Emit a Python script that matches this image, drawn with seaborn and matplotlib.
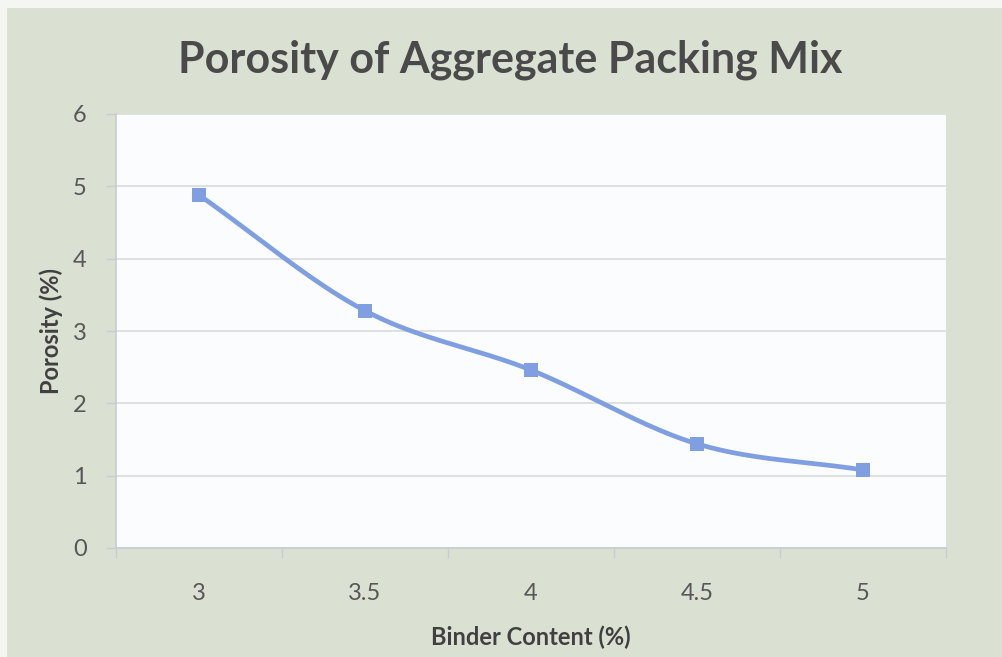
import numpy as np
import pandas as pd
import matplotlib
matplotlib.use("Agg")
import matplotlib.pyplot as plt
from matplotlib.patches import Rectangle
from matplotlib.ticker import FixedLocator
import seaborn as sns

# Data
binder_content = ["3", "3.5", "4", "4.5", "5"]
porosity = [4.88, 3.28, 2.46, 1.44, 1.08]
y_ticks = [0, 1, 2, 3, 4, 5, 6]

title_text = "Porosity of Aggregate Packing Mix"
x_label = "Binder Content (%)"
y_label = "Porosity (%)"

sns.set_theme(style="white")
plt.rcParams["font.family"] = ["Lato", "DejaVu Sans"]

BG = "#dae1d2"
PLOT_BG = "#fbfcfd"
LINE = "#7f9fe0"
TEXT = "#575757"
GRID = "#d6d8da"

df = pd.DataFrame({"pos": np.arange(len(binder_content)), "porosity": porosity})

fig = plt.figure(figsize=(10.03, 6.57), dpi=100)
fig.patch.set_facecolor("#f4f6f2")
fig.add_artist(Rectangle((7 / 1003, 0), 1, 1 - 8 / 657, transform=fig.transFigure,
                         facecolor=BG, edgecolor="none", zorder=-10))

ax = fig.add_axes([116 / 1003, 1 - 548 / 657, (946 - 116) / 1003, (548 - 114) / 657])
ax.set_facecolor(PLOT_BG)


def smooth_path(x, y, n=40):
    """Catmull-Rom style smoothing through every point."""
    x = np.asarray(x, float)
    y = np.asarray(y, float)
    px = np.concatenate([[2 * x[0] - x[1]], x, [2 * x[-1] - x[-2]]])
    py = np.concatenate([[2 * y[0] - y[1]], y, [2 * y[-1] - y[-2]]])
    xs, ys = [], []
    t = np.linspace(0, 1, n)
    for i in range(1, len(px) - 2):
        p0, p1, p2, p3 = (np.array([px[j], py[j]]) for j in range(i - 1, i + 3))
        c1 = p1 + (p2 - p0) / 6
        c2 = p2 - (p3 - p1) / 6
        b = (((1 - t) ** 3)[:, None] * p1 + (3 * (1 - t) ** 2 * t)[:, None] * c1
             + (3 * (1 - t) * t ** 2)[:, None] * c2 + (t ** 3)[:, None] * p2)
        xs.extend(b[:, 0]); ys.extend(b[:, 1])
    return np.array(xs), np.array(ys)


sx, sy = smooth_path(df["pos"], df["porosity"])
sns.lineplot(x=sx, y=sy, ax=ax, color=LINE, linewidth=3.4, sort=False, zorder=3)
sns.scatterplot(data=df, x="pos", y="porosity", ax=ax, marker="s", s=115,
                color=LINE, edgecolor=LINE, linewidth=0, zorder=4)

ax.set_xlim(-0.5, len(binder_content) - 0.5)
ax.set_ylim(0, 6)
ax.set_yticks(y_ticks)
ax.set_yticklabels([str(v) for v in y_ticks])
ax.set_xticks(df["pos"])
ax.set_xticklabels(binder_content)
ax.xaxis.set_minor_locator(FixedLocator(np.arange(-0.5, len(binder_content), 1.0)))

ax.grid(axis="y", color=GRID, linewidth=1.1)
ax.set_axisbelow(True)
for side in ["top", "right"]:
    ax.spines[side].set_visible(False)
for side in ["left", "bottom"]:
    ax.spines[side].set_color("#c8ccd0")
    ax.spines[side].set_linewidth(1.2)

ax.tick_params(axis="y", which="major", length=7, width=1, color="#c8ccd0",
               labelsize=17, labelcolor=TEXT, pad=14, left=True)
ax.tick_params(axis="x", which="major", length=0, labelsize=17, labelcolor=TEXT, pad=25)
ax.tick_params(axis="x", which="minor", length=7, width=1, color="#c8ccd0", bottom=True)

ax.set_xlabel(x_label, fontsize=17, fontweight="bold", color="#404040", labelpad=16)
ax.set_ylabel(y_label, fontsize=17, fontweight="bold", color="#404040", labelpad=7)

fig.text(510 / 1003, 1 - 60 / 657, title_text, ha="center", va="center",
         fontsize=31, fontweight="bold", color="#4a4a4a")

fig.savefig("out.png", dpi=100, facecolor=fig.get_facecolor())
